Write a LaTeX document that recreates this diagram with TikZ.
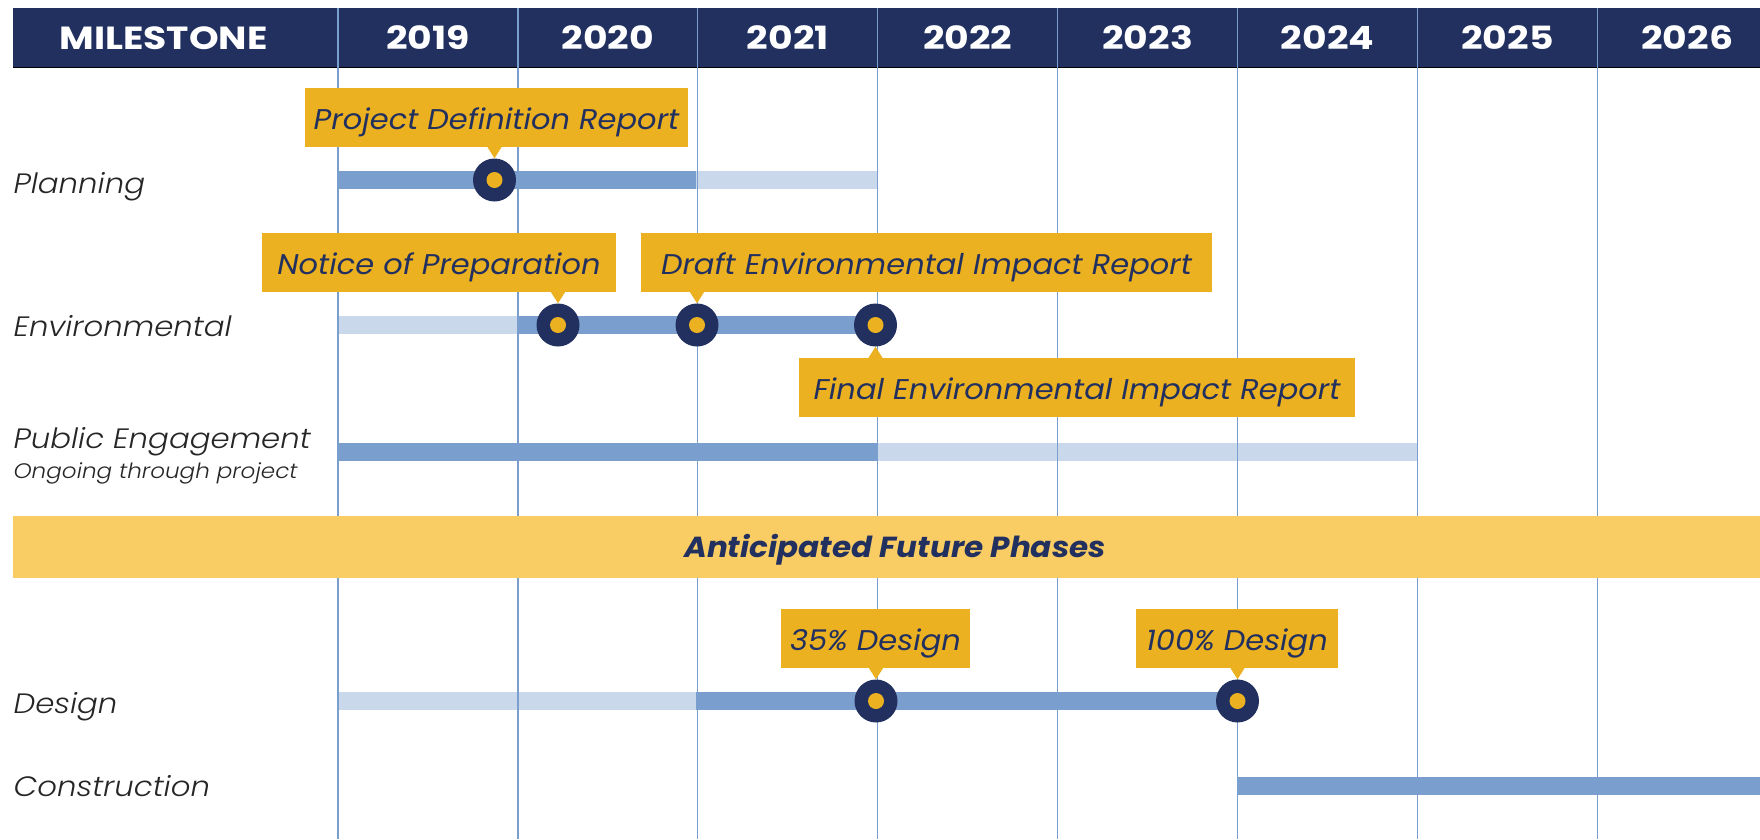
\documentclass[tikz,border=0pt]{standalone}
\usepackage{fontspec}
\setmainfont{Poppins}[FakeStretch=1.07]
\newfontfamily\headfont{Poppins}[FakeStretch=1.18]
\newfontfamily\lightfont{Poppins Light}[ItalicFont={Poppins Light Italic}, FakeStretch=1.1]
\usetikzlibrary{positioning}

\definecolor{navy}{HTML}{21305F}
\definecolor{bardark}{HTML}{7A9FCE}
\definecolor{barlight}{HTML}{C9D8EB}
\definecolor{gold}{HTML}{ECB120}
\definecolor{bandgold}{HTML}{F9CC64}

\tikzset{
  year/.style={text=white, font=\headfont\bfseries\fontsize{32}{36}\selectfont},
  rowlabel/.style={anchor=base west, text=black!85, font=\lightfont\itshape\fontsize{28}{32}\selectfont},
  callout/.style={fill=gold, text=navy, inner sep=0pt, minimum height=59pt,
    text height=24pt, text depth=0pt, font=\itshape\fontsize{28.5}{32}\selectfont},
  ms/.style={circle, fill=navy, minimum size=43pt, inner sep=0pt},
  bar/.style={line width=18pt}
}

\begin{document}
\begin{tikzpicture}[x=1pt, y=-1pt]
    \useasboundingbox (0,0) rectangle (1760,839);

    % header
    \fill[navy] (13,8) rectangle (1760,67);
    \draw[black, line width=1.2pt] (13,67.5) -- (1760,67.5);
    \node[year] (head) at (163.5,38) {MILESTONE};
    \foreach \yr [count=\i from 0] in {2019,...,2026}
      \node[year] (y\yr) at (428+179.9*\i,38) {\yr};

    % row labels
    \node[rowlabel] (plan) at (10,193) {Planning};
    \node[rowlabel] (env) at (10,336) {Environmental};
    \node[rowlabel] (pub) at (10,448) {Public Engagement};
    \node[rowlabel, font=\lightfont\itshape\fontsize{21}{24}\selectfont] (pubsub) at (10,478) {Ongoing through project};
    \node[rowlabel] (des) at (10,713) {Design};
    \node[rowlabel] (cons) at (10,796) {Construction};

    % bars
    \draw[bar, bardark] (338,180) -- (696,180);
    \draw[bar, barlight] (696,180) -- (877,180);
    \draw[bar, barlight] (338,325) -- (517,325);
    \draw[bar, bardark] (517,325) -- (875.5,325);
    \draw[bar, bardark] (338,452) -- (877,452);
    \draw[bar, barlight] (877,452) -- (1418,452);
    \draw[bar, barlight] (338,701) -- (696,701);
    \draw[bar, bardark] (696,701) -- (1237.5,701);
    \draw[bar, bardark] (1238,785.5) -- (1760,785.5);

    % year lines
    \foreach \i in {0,...,7}
      \draw[bardark, line width=1.2pt] (338+179.9*\i,8) -- (338+179.9*\i,839);

    % future phases band
    \fill[bandgold] (13,516) rectangle (1760,578);
    \node[text=navy, text height=20pt, text depth=0pt, font=\bfseries\itshape\fontsize{29}{34}\selectfont] (future) at (895,547) {Anticipated Future Phases};

    % milestones
    \node[ms] (pdr) at (494.5,180) {};
    \node[ms] (nop) at (558,325) {};
    \node[ms] (deir) at (697,325) {};
    \node[ms] (feir) at (875.5,325) {};
    \node[ms] (d35) at (876,701) {};
    \node[ms] (d100) at (1237.5,701) {};
    \foreach \m in {pdr,nop,deir,feir,d35,d100}
      \fill[gold] (\m) circle (8pt);

    % callouts
    \node[callout, minimum width=383pt] (pdrbox) at (496.5,117.5) {Project Definition Report};
    \node[callout, minimum width=354pt] (nopbox) at (439,262.5) {Notice of Preparation};
    \node[callout, minimum width=571pt] (deirbox) at (926.5,262.5) {Draft Environmental Impact Report};
    \node[callout, minimum width=556pt] (feirbox) at (1077,387.5) {Final Environmental Impact Report};
    \node[callout, minimum width=189pt] (d35box) at (875.5,638.5) {35\% Design};
    \node[callout, minimum width=202pt] (d100box) at (1237,638.5) {100\% Design};

    % pointers
    \foreach \m in {pdr,nop,deir,d35,d100}
      \fill[gold] (\m |- \m box.south) ++(-7,0) -- ++(14,0) -- (\m.north) -- cycle;
    \fill[gold] (feir |- feirbox.north) ++(-7,0) -- ++(14,0) -- (feir.south) -- cycle;
\end{tikzpicture}
\end{document}
